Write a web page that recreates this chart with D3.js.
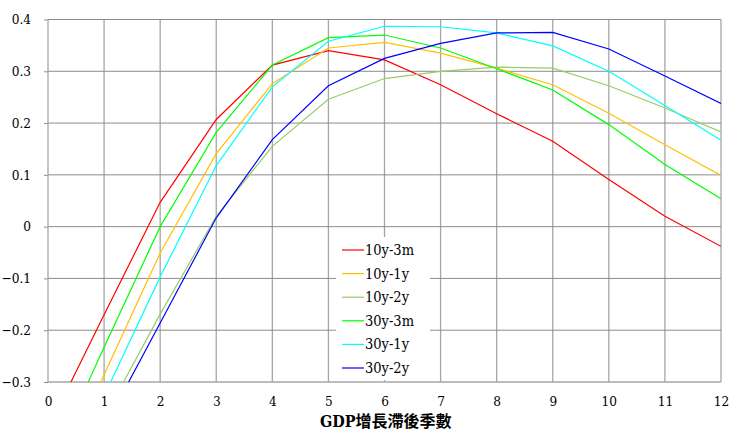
<!DOCTYPE html>
<html>
<head>
<meta charset="utf-8">
<script src="https://cdn.jsdelivr.net/npm/d3@7"></script>
<style>
  body { margin: 0; background: #fff; }
</style>
</head>
<body>
<svg id="chart"></svg>
<script>
const lags = [0, 1, 2, 3, 4, 5, 6, 7, 8, 9, 10, 11, 12]
const seriesNames = ["10y-3m", "10y-1y", "10y-2y", "30y-3m", "30y-1y", "30y-2y"]
const seriesColors = ["#ff0000", "#ffc000", "#99cc66", "#00ff00", "#00ffff", "#0000ff"]

const s10y3m = [-0.39, -0.17, 0.047, 0.207, 0.312, 0.340, 0.322, 0.274, 0.218, 0.165, 0.091, 0.020, -0.038]
const s10y1y = [-0.52, -0.286, -0.051, 0.141, 0.276, 0.345, 0.356, 0.335, 0.306, 0.274, 0.219, 0.158, 0.099]
const s10y2y = [-0.57, -0.37, -0.169, 0.020, 0.155, 0.246, 0.286, 0.300, 0.308, 0.306, 0.272, 0.229, 0.183]
const s30y3m = [-0.47, -0.233, 0.0, 0.182, 0.312, 0.365, 0.370, 0.345, 0.305, 0.264, 0.197, 0.120, 0.054]
const s30y1y = [-0.557, -0.327, -0.097, 0.118, 0.270, 0.358, 0.387, 0.386, 0.374, 0.349, 0.300, 0.234, 0.167]
const s30y2y = [-0.59, -0.389, -0.186, 0.017, 0.168, 0.272, 0.325, 0.354, 0.374, 0.375, 0.343, 0.291, 0.238]
const seriesValues = [s10y3m, s10y1y, s10y2y, s30y3m, s30y1y, s30y2y]

const yTicks = [-0.3, -0.2, -0.1, 0, 0.1, 0.2, 0.3, 0.4]
const xTitle = "GDP增長滯後季數"

// no Times-like serif here, DejaVu Serif Condensed is the closest in width
const FONT = "'DejaVu Serif Condensed', 'DejaVu Serif', 'Noto Sans CJK TC'"

const width = 732, height = 430
const margin = { top: 19.5, right: 11, bottom: 48, left: 48 }

const svg = d3.select("#chart").attr("width", width).attr("height", height)

const x = d3.scaleLinear().domain([0, 12]).range([margin.left, width - margin.right])
const y = d3.scaleLinear().domain([-0.3, 0.4]).range([height - margin.bottom, margin.top])

// grid
const grid = svg.append("g")
grid.selectAll("line.v")
  .data(lags.slice(1))
  .join("line")
  .attr("x1", d => x(d)).attr("x2", d => x(d))
  .attr("y1", y(0.4)).attr("y2", y(-0.3))
  .attr("stroke", "#a6a6a6").attr("stroke-width", 1.3)
grid.selectAll("line.h")
  .data(yTicks.slice(1))
  .join("line")
  .attr("class", "h")
  .attr("x1", x(0)).attr("x2", x(12))
  .attr("y1", d => y(d)).attr("y2", d => y(d))
  .attr("stroke", "#8c8c8c").attr("stroke-width", 1)

// axes
const yAxis = svg.append("g")
  .attr("transform", `translate(${x(0)},0)`)
  .call(d3.axisLeft(y).tickValues(yTicks).tickSize(4).tickPadding(13)
    .tickFormat(d => d === 0 ? "0" : d3.format(".1f")(d)))
yAxis.attr("font-family", FONT).attr("font-size", 13.5)
yAxis.selectAll("text").attr("fill", "#000")
yAxis.selectAll("line, path").attr("stroke", "#8c8c8c")
yAxis.select("path").remove()

const xAxis = svg.append("g")
  .attr("transform", `translate(0,${y(-0.3)})`)
  .call(d3.axisBottom(x).tickValues(lags).tickSize(0).tickPadding(14).tickFormat(d3.format("d")))
xAxis.attr("font-family", FONT).attr("font-size", 13.5)
xAxis.selectAll("text").attr("fill", "#000")
xAxis.select("path").remove()

svg.append("line")
  .attr("x1", x(0)).attr("x2", x(12)).attr("y1", y(-0.3)).attr("y2", y(-0.3))
  .attr("stroke", "#a6a6a6").attr("stroke-width", 1.3)
svg.append("line")
  .attr("x1", x(0)).attr("x2", x(0)).attr("y1", y(0.4)).attr("y2", y(-0.3))
  .attr("stroke", "#a6a6a6").attr("stroke-width", 1.3)

// lines
svg.append("clipPath").attr("id", "plot")
  .append("rect")
  .attr("x", x(0)).attr("y", y(0.4))
  .attr("width", x(12) - x(0)).attr("height", y(-0.3) - y(0.4))

const line = d3.line().x((d, i) => x(lags[i])).y(d => y(d))

svg.append("g").attr("clip-path", "url(#plot)")
  .selectAll("path")
  .data(seriesValues)
  .join("path")
  .attr("d", line)
  .attr("fill", "none")
  .attr("stroke", (d, i) => seriesColors[i])
  .attr("stroke-width", 1.2)

// legend
const legend = svg.append("g").attr("transform", "translate(336,237)")
legend.append("rect")
  .attr("width", 94).attr("height", 143)
  .attr("fill", "#fff")
const items = legend.selectAll("g")
  .data(seriesNames)
  .join("g")
  .attr("transform", (d, i) => `translate(0,${13 + i * 23.6})`)
items.append("line")
  .attr("x1", 6).attr("x2", 28)
  .attr("stroke", (d, i) => seriesColors[i]).attr("stroke-width", 1.2)
items.append("text")
  .attr("x", 29).attr("dy", "0.35em")
  .attr("font-family", FONT).attr("font-size", 14.5)
  .text(d => d)

// x title
svg.append("text")
  .attr("x", 320).attr("y", 427)
  .attr("font-family", FONT).attr("font-size", 16)
  .attr("font-weight", "bold")
  .text(xTitle)
</script>
</body>
</html>
